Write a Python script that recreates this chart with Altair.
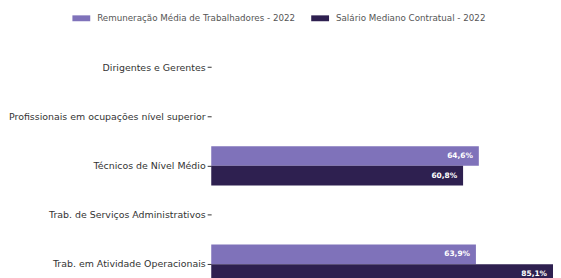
import altair as alt
import pandas as pd

categories = [
    "Dirigentes e Gerentes",
    "Profissionais em ocupações nível superior",
    "Técnicos de Nível Médio",
    "Trab. de Serviços Administrativos",
    "Trab. em Atividade Operacionais",
]
series_names = ["Remuneração Média de Trabalhadores - 2022", "Salário Mediano Contratual - 2022"]
remuneracao = [None, None, 64.6, None, 63.9]
salario = [None, None, 60.8, None, 85.1]
colors = ["#7f72ba", "#2e2050"]

X_MAX = 82.5  # visible part of the value axis (the longest bar runs off the right edge)

rows = []
for s, vals in zip(series_names, [remuneracao, salario]):
    for c, v in zip(categories, vals):
        if v is not None:
            rows.append({"cat": c, "series": s, "value": v,
                         "label": f"{v:.1f}".replace(".", ",") + "%"})
df = pd.DataFrame(rows)

FONT = "DejaVu Sans"

base = alt.Chart(df).encode(
    y=alt.Y("cat:N", sort=categories,
            scale=alt.Scale(domain=categories, paddingInner=0.2, paddingOuter=0.1),
            axis=alt.Axis(title=None, domain=False, tickSize=4, tickColor="#333",
                          labelFontSize=9.5, labelColor="#333", labelFont=FONT,
                          labelPadding=2, labelLimit=400,
                          minExtent=200, maxExtent=200)),
    yOffset=alt.YOffset("series:N", sort=series_names,
                        scale=alt.Scale(domain=series_names)),
)

bars = base.mark_bar(clip=True).encode(
    x=alt.X("value:Q", scale=alt.Scale(domain=[0, X_MAX], nice=False), axis=None),
    color=alt.Color("series:N",
                    scale=alt.Scale(domain=series_names, range=colors),
                    legend=alt.Legend(title=None, orient="none", direction="horizontal",
                                      legendX=-140, legendY=-34,
                                      symbolType="M-1,-0.33L1,-0.33L1,0.33L-1,0.33Z",
                                      symbolSize=324, symbolStrokeWidth=0,
                                      labelFontSize=8.8, labelColor="#555",
                                      labelFont=FONT, columnPadding=16,
                                      labelOffset=7, labelLimit=400)),
)

text = base.transform_calculate(
    xpos=f"min(datum.value, {X_MAX})"
).mark_text(align="right", dx=-6, color="white", fontWeight="bold",
            fontSize=7.5, font=FONT).encode(
    x=alt.X("xpos:Q"),
    text="label:N",
)

chart = alt.layer(bars, text).properties(
    width=345, height=248,
    padding={"left": 0, "top": 0, "right": 0, "bottom": 0},
).configure_view(stroke=None)

chart.save("out.html", embed_options={"renderer": "svg", "actions": False})
